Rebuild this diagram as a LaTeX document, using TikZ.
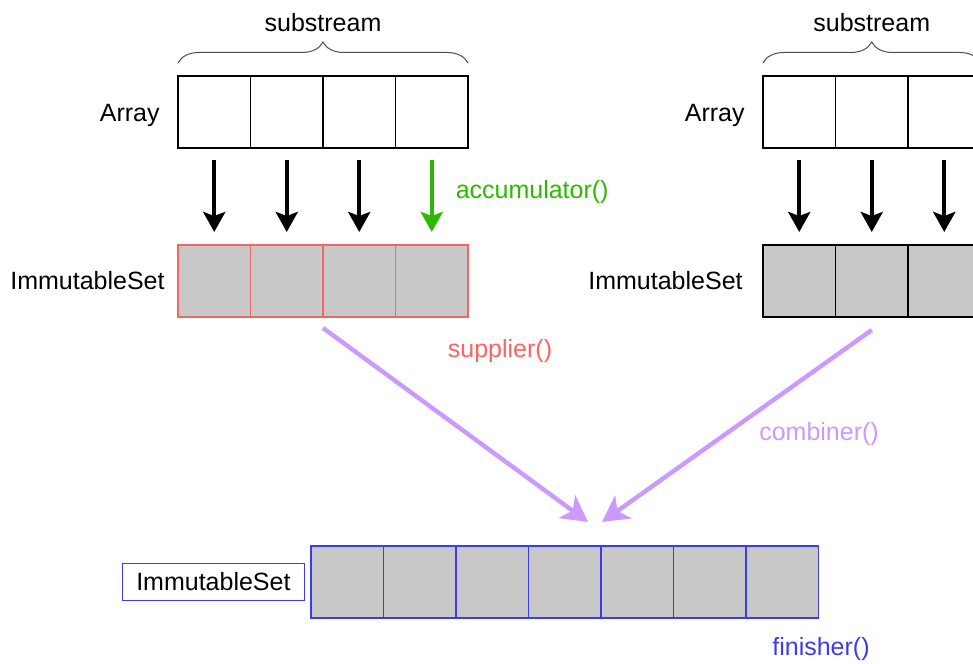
\documentclass[tikz,border=0pt]{standalone}
\usepackage{fontspec}
\setmainfont{Liberation Sans}
\usetikzlibrary{positioning, arrows.meta, decorations.pathreplacing}
\definecolor{cellgray}{RGB}{200,200,200}
\definecolor{setred}{RGB}{234,107,102}
\definecolor{supred}{RGB}{250,100,100}
\definecolor{accgreen}{RGB}{45,185,0}
\definecolor{mergepurple}{RGB}{204,153,255}
\definecolor{finblue}{RGB}{60,60,235}
\tikzstyle{cell} = [rectangle, minimum width=36.25pt, minimum height=36pt, inner sep=0pt, outer sep=0pt, draw=black, line width=0.6pt]
\tikzstyle{setcell} = [cell, fill=cellgray]
\tikzstyle{feed} = [line width=2pt, -{Stealth[length=10pt, width=11pt, inset=2pt]}, shorten <=6pt, shorten >=6.5pt]
\tikzstyle{merge} = [line width=2.2pt, mergepurple, -{Stealth[length=13pt, width=14pt, inset=3.5pt]}]
\tikzstyle{subbrace} = [decorate, decoration={brace, amplitude=10.5pt}, draw=black!70, line width=0.5pt]

\begin{document}
\begin{tikzpicture}[x=0.5pt, y=-0.5pt, font=\fontsize{12.5pt}{15pt}\selectfont]
    \useasboundingbox (0,0) rectangle (973,663);
    \clip (0,0) rectangle (973,663);

    % Left substream
    \node (a1) [cell, anchor=north west] at (178,76) {};
    \node (a2) [cell, right=0pt of a1] {};
    \node (a3) [cell, right=0pt of a2] {};
    \node (a4) [cell, right=0pt of a3] {};
    \node (s1) [setcell, draw=setred, below=48.5pt of a1] {};
    \node (s2) [setcell, draw=setred, right=0pt of s1] {};
    \node (s3) [setcell, draw=setred, right=0pt of s2] {};
    \node (s4) [setcell, draw=setred, right=0pt of s3] {};
    \node (alab) [left=9pt of a1, yshift=-1.5pt, inner sep=0pt] {Array};
    \node (slab) [left=6.5pt of s1, inner sep=0pt] {ImmutableSet};
    \draw[subbrace] ([yshift=6.5pt]a1.north west) -- ([yshift=6.5pt]a4.north east)
        node (sub1) [midway, above=15.5pt, inner sep=0pt] {substream};

    % Right substream
    \node (b1) [cell, anchor=north west] at (763,76) {};
    \node (b2) [cell, right=0pt of b1] {};
    \node (b3) [cell, right=0pt of b2] {};
    \node (t1) [setcell, below=48.5pt of b1] {};
    \node (t2) [setcell, right=0pt of t1] {};
    \node (t3) [setcell, right=0pt of t2] {};
    \node (blab) [left=9pt of b1, yshift=-1.5pt, inner sep=0pt] {Array};
    \node (tlab) [left=10pt of t1, inner sep=0pt] {ImmutableSet};
    \draw[subbrace] ([yshift=6.5pt]b1.north west) -- ([yshift=6.5pt]b3.north east)
        node (sub2) [midway, above=15.5pt, inner sep=0pt] {substream};

    % Accumulating arrows
    \draw[feed] (a1) -- (s1);
    \draw[feed] (a2) -- (s2);
    \draw[feed] (a3) -- (s3);
    \draw[feed, accgreen] (a4) -- (s4)
        node (acclbl) [midway, right=11pt, yshift=2pt, inner sep=0pt] {accumulator()};
    \draw[feed] (b1) -- (t1);
    \draw[feed] (b2) -- (t2);
    \draw[feed] (b3) -- (t3);

    % Final set
    \node (f1) [setcell, draw=finblue, anchor=north west] at (311,546) {};
    \node (f2) [setcell, draw=finblue, right=0pt of f1] {};
    \node (f3) [setcell, draw=finblue, right=0pt of f2] {};
    \node (f4) [setcell, draw=finblue, right=0pt of f3] {};
    \node (f5) [setcell, draw=finblue, right=0pt of f4] {};
    \node (f6) [setcell, draw=finblue, right=0pt of f5] {};
    \node (f7) [setcell, draw=finblue, right=0pt of f6] {};
    \node (flab) [rectangle, draw=finblue, line width=0.6pt, minimum width=91pt, minimum height=18.5pt, left=3pt of f1] {ImmutableSet};

    % Combining arrows
    \coordinate (supin) at (588,522);
    \coordinate (combin) at (602,522);
    \draw[merge] ([yshift=-5.5pt]s2.south east) -- (supin);
    \draw[merge] ([yshift=-6.5pt]t2.south) -- (combin);

    % Function labels
    \node (suplbl) [text=supred] at (500,351) {supplier()};
    \node (comblbl) [text=mergepurple] at (819,434) {combiner()};
    \node (finlbl) [text=finblue] at (821,649) {finisher()};
\end{tikzpicture}
\end{document}
